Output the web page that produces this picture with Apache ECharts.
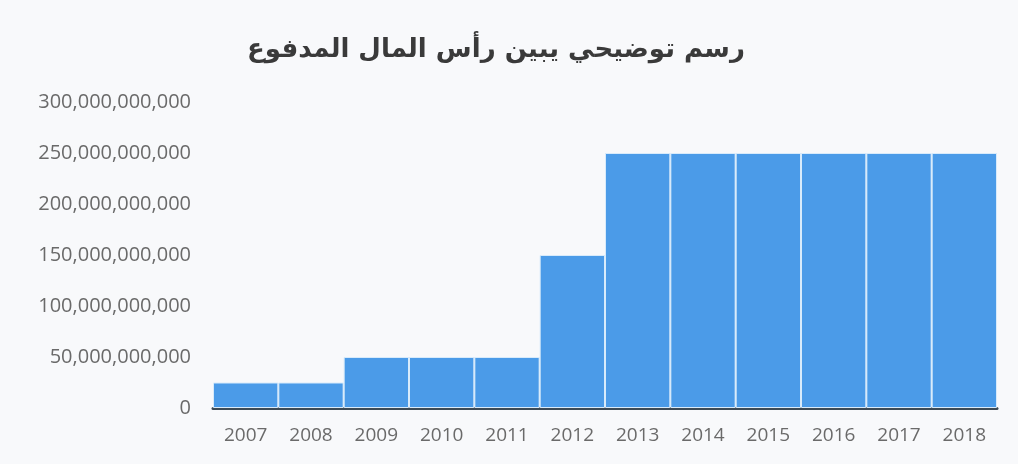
<!DOCTYPE html>
<html>
<head>
<meta charset="utf-8">
<script src="https://cdn.jsdelivr.net/npm/echarts@6/dist/echarts.min.js"></script>
<style>
html,body{margin:0;padding:0;background:#f8f9fb;}
#c{width:1018px;height:464px;}
</style>
</head>
<body>
<div id="c"></div>
<script>
const titleText = 'رسم توضيحي يبين رأس المال المدفوع';
const years = ['2007','2008','2009','2010','2011','2012','2013','2014','2015','2016','2017','2018'];
const paidCapital = [25000000000,25000000000,50000000000,50000000000,50000000000,150000000000,250000000000,250000000000,250000000000,250000000000,250000000000,250000000000];

const chart = echarts.init(document.getElementById('c'));
chart.setOption({
  backgroundColor: '#f8f9fb',
  animation: false,
  title: {
    text: titleText,
    left: 491, top: 32, textAlign: 'center',
    textStyle: {fontFamily: 'DejaVu Sans', fontWeight: 'bold', fontSize: 26, color: '#3a3a3a'}
  },
  grid: {left: 213, right: 21, top: 102, bottom: 56},
  xAxis: {
    type: 'category', data: years,
    axisTick: {show: false},
    axisLine: {lineStyle: {color: '#3d4a55', width: 3}},
    axisLabel: {margin: 18, fontFamily: 'Open Sans', fontSize: 19, color: '#6a6a6a'}
  },
  yAxis: {
    type: 'value', min: 0, max: 300000000000, interval: 50000000000,
    splitLine: {show: false},
    axisLine: {show: false}, axisTick: {show: false},
    axisLabel: {
      margin: 22, fontFamily: 'Open Sans', fontSize: 20, color: '#6a6a6a',
      formatter: v => v.toLocaleString('en-US')
    }
  },
  series: [{
    type: 'bar', data: paidCapital,
    barCategoryGap: '0%',
    itemStyle: {color: '#4b9be8', borderColor: '#d8ebfb', borderWidth: 1}
  }]
});
</script>
</body>
</html>
